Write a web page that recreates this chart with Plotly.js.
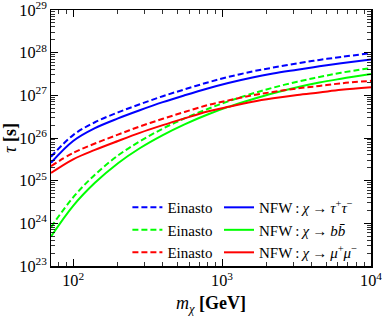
<!DOCTYPE html>
<html>
<head>
<meta charset="utf-8">
<script src="https://cdn.plot.ly/plotly-3.0.1.min.js"></script>
<style>html,body{margin:0;padding:0;background:#fff}#chart{width:382px;height:320px}</style>
</head>
<body>
<div id="chart"></div>
<script>
const mass = [71, 100, 140, 200, 280, 400, 560, 800, 1100, 1600, 2200, 3200, 4500, 6300, 10000];
const tauEinTau = [3.63e25, 1.17e26, 2.34e26, 3.98e26, 6.17e26, 9.55e26, 1.38e27, 2.00e27, 2.69e27, 3.63e27, 4.47e27, 5.62e27, 6.76e27, 7.94e27, 9.77e27];
const tauNfwTau = [2.63e25, 8.51e25, 1.70e26, 2.88e26, 4.47e26, 6.92e26, 1.00e27, 1.45e27, 1.95e27, 2.63e27, 3.24e27, 3.98e27, 4.79e27, 5.62e27, 6.92e27];
const tauEinB   = [8.13e23, 4.07e24, 1.38e25, 3.89e25, 8.32e25, 1.66e26, 2.88e26, 4.79e26, 7.24e26, 1.10e27, 1.51e27, 2.09e27, 2.69e27, 3.39e27, 4.37e27];
const tauNfwB   = [4.90e23, 2.57e24, 8.91e24, 2.57e25, 5.75e25, 1.17e26, 2.09e26, 3.55e26, 5.37e26, 8.13e26, 1.12e27, 1.55e27, 2.00e27, 2.45e27, 3.16e27];
const tauEinMu  = [2.19e25, 4.47e25, 7.41e25, 1.20e26, 1.86e26, 2.82e26, 4.07e26, 5.89e26, 7.59e26, 1.00e27, 1.20e27, 1.45e27, 1.66e27, 1.91e27, 2.19e27];
const tauNfwMu  = [1.51e25, 3.16e25, 5.25e25, 8.51e25, 1.32e26, 2.00e26, 2.88e26, 4.17e26, 5.37e26, 7.08e26, 8.51e26, 1.02e27, 1.17e27, 1.35e27, 1.55e27];
const einLabel = 'Einasto';
const nfwLabels = [
  'NFW\u2009:\u2009<i>χ</i>\u2009→\u2009<i>τ</i><sup>+</sup><i>τ</i><sup>−</sup>',
  'NFW\u2009:\u2009<i>χ</i>\u2009→\u2009<i>b</i><i>b̄</i>',
  'NFW\u2009:\u2009<i>χ</i>\u2009→\u2009<i>μ</i><sup>+</sup><i>μ</i><sup>−</sup>'
];
const colors = ['#0000ff', '#00ff00', '#ff0000'];

const ein = [tauEinTau, tauEinB, tauEinMu];
const nfw = [tauNfwTau, tauNfwB, tauNfwMu];
const traces = [];
for (let i = 0; i < 3; i++) {
  traces.push({x: mass, y: ein[i], type: 'scatter', mode: 'lines', name: einLabel,
    line: {color: colors[i], width: 2, dash: '6px,3px', shape: 'spline'}, legend: 'legend'});
  traces.push({x: mass, y: nfw[i], type: 'scatter', mode: 'lines', name: nfwLabels[i],
    line: {color: colors[i], width: 2, shape: 'spline'}, legend: 'legend2'});
}
const fam = 'Liberation Serif, Times New Roman, serif';
const axisCommon = {
  type: 'log', showgrid: false, zeroline: false, showline: true, linecolor: '#000', linewidth: 1.5,
  mirror: 'allticks', ticks: 'inside', ticklen: 7, tickwidth: 1, tickcolor: '#000',
  exponentformat: 'power', dtick: 1, ticklabeloverflow: 'allow',
  tickfont: {family: fam, size: 13, color: '#000'},
  minor: {ticks: 'inside', ticklen: 4, tickwidth: 0.8, tickcolor: '#000', showgrid: false}
};
const layout = {
  width: 382, height: 320,
  margin: {l: 51, r: 11, t: 10, b: 42},
  paper_bgcolor: '#fff', plot_bgcolor: '#fff',
  font: {family: fam, color: '#000'},
  showlegend: true,
  xaxis: Object.assign({}, axisCommon, {range: [Math.log10(71), 4], automargin: 'bottom',
    title: {text: '<i>m</i><sub><i>χ</i></sub> <b>[GeV]</b>', font: {family: fam, size: 18}, standoff: 7}}),
  yaxis: Object.assign({}, axisCommon, {range: [23, 29], automargin: false,
    title: {text: '<i>τ</i> <b>[s]</b>', font: {family: fam, size: 18}}}),
  legend: {x: 0.52, y: -0.012, xanchor: 'right', yanchor: 'bottom', bgcolor: 'rgba(0,0,0,0)',
    font: {family: fam, size: 15}, itemwidth: 30, tracegroupgap: 0, traceorder: 'normal'},
  legend2: {x: 0.975, y: -0.012, xanchor: 'right', yanchor: 'bottom', bgcolor: 'rgba(0,0,0,0)',
    font: {family: fam, size: 15}, itemwidth: 30, tracegroupgap: 0, traceorder: 'normal'}
};
Plotly.newPlot('chart', traces, layout, {staticPlot: true, displayModeBar: false});
</script>
</body>
</html>
